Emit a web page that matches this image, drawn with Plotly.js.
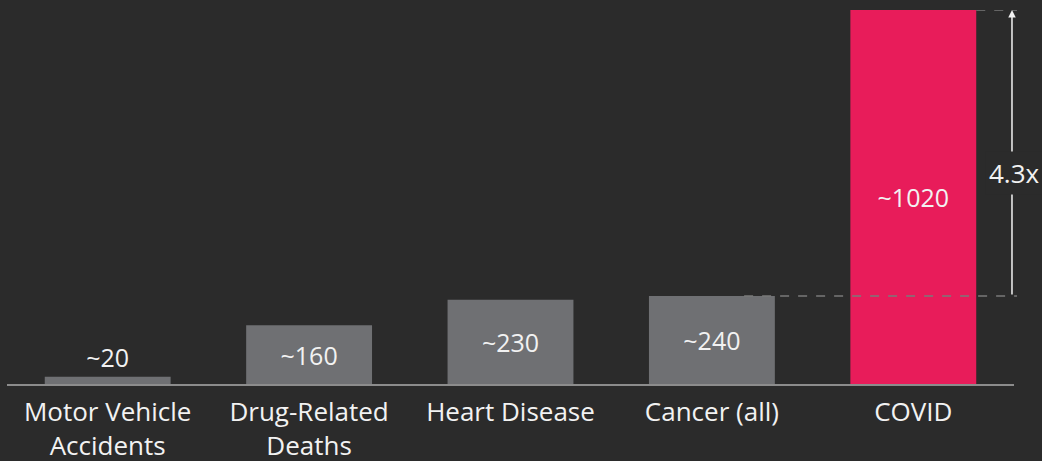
<!DOCTYPE html>
<html>
<head>
<meta charset="utf-8">
<script src="https://cdn.plot.ly/plotly-3.0.1.min.js"></script>
<style>
  html, body { margin: 0; padding: 0; background: #2b2b2b; }
  #chart { width: 1042px; height: 461px; }
</style>
</head>
<body>
<div id="chart"></div>
<script>
const categories = ["Motor Vehicle<br>Accidents", "Drug-Related<br>Deaths", "Heart Disease", "Cancer (all)", "COVID"];
const deaths = [20, 160, 230, 240, 1020];
const valueLabels = ["~20", "~160", "~230", "~240", "~1020"];
const barColors = ["#6f7073", "#6f7073", "#6f7073", "#6f7073", "#e81c5a"];
const ratioLabel = "4.3x";
const ratioFrom = 240;
const ratioTo = 1020;

const FONT = "'Open Sans', Lato, sans-serif";

const trace = {
  type: "bar",
  x: categories,
  y: deaths,
  text: valueLabels,
  textposition: ["outside", "inside", "inside", "inside", "inside"],
  insidetextanchor: "middle",
  textangle: 0,
  cliponaxis: false,
  textfont: { family: FONT, size: 25, color: "#f2f2f2" },
  outsidetextfont: { family: FONT, size: 25, color: "#f2f2f2" },
  insidetextfont: { family: FONT, size: 25, color: "#f2f2f2" },
  marker: { color: barColors, line: { width: 0 } },
  hoverinfo: "none"
};

const layout = {
  width: 1042,
  height: 461,
  margin: { l: 7, r: 28, t: 10, b: 77 },
  paper_bgcolor: "#2b2b2b",
  plot_bgcolor: "#2b2b2b",
  bargap: 0.375,
  showlegend: false,
  font: { family: FONT, color: "#f2f2f2" },
  xaxis: {
    type: "category",
    showline: true,
    linecolor: "#8c8c8c",
    linewidth: 1.5,
    ticks: "",
    ticklabelstandoff: 4,
    showgrid: false,
    zeroline: false,
    tickfont: { family: FONT, size: 26, color: "#f2f2f2" },
    fixedrange: true
  },
  yaxis: {
    range: [0, 1020],
    visible: false,
    showgrid: false,
    zeroline: false,
    fixedrange: true
  },
  shapes: [
    { type: "line", xref: "paper", yref: "y", x0: 0.732, x1: 1.003, y0: ratioFrom, y1: ratioFrom,
      line: { color: "#7a7a7a", width: 1.5, dash: "dash" } },
    { type: "line", xref: "paper", yref: "y", x0: 0.9625, x1: 1.003, y0: ratioTo, y1: ratioTo,
      line: { color: "#7a7a7a", width: 1.5, dash: "dash" } }
  ],
  annotations: [
    { xref: "paper", yref: "y", x: 0.998, y: ratioTo, axref: "pixel", ayref: "y", ax: 0, ay: ratioFrom,
      text: "", showarrow: true, arrowhead: 2, arrowsize: 1, arrowwidth: 1.5, arrowcolor: "#f2f2f2",
      standoff: 0, startstandoff: 0 },
    { xref: "paper", yref: "y", x: 1.0, y: 575, text: ratioLabel, showarrow: false,
      font: { family: FONT, size: 26, color: "#f2f2f2" }, bgcolor: "#2b2b2b",
      xanchor: "center", yanchor: "middle", borderpad: 3 }
  ]
};

Plotly.newPlot("chart", [trace], layout, { displayModeBar: false, staticPlot: true });
</script>
</body>
</html>
